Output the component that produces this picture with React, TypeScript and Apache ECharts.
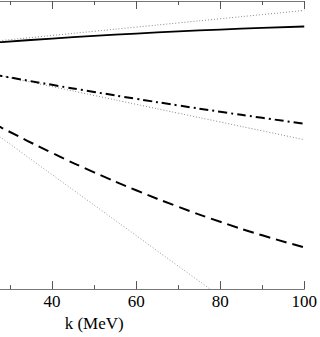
import React, { useEffect, useRef } from "react";
import * as echarts from "echarts";

const kValues = [26, 28, 40, 50, 60, 70, 80, 90, 100];
const solidSeries = [6.258, 6.273, 6.362, 6.428, 6.488, 6.543, 6.59, 6.632, 6.667];
const upperDotted = [6.292, 6.313, 6.44, 6.546, 6.652, 6.758, 6.864, 6.97, 7.076];
const dashDotSeries = [5.45, 5.411, 5.186, 5.006, 4.832, 4.664, 4.503, 4.348, 4.2];
const middleDotted = [5.456, 5.411, 5.142, 4.917, 4.692, 4.467, 4.243, 4.018, 3.793];
const dashedSeries = [4.208, 4.096, 3.457, 2.965, 2.51, 2.092, 1.71, 1.366, 1.059];
const steepDottedK = [20, 28, 40, 50, 60, 70, 77.6];
const steepDotted = [4.451, 3.835, 2.906, 2.133, 1.36, 0.586, 0];

const xTicks = { min: 0, max: 100, interval: 20 };
const visibleXLabels = [40, 60, 80, 100];
const yTicks = { min: 0, max: 7.315, interval: 1 };

const pair = (xs: number[], ys: number[]) => xs.map((x, i) => [x, ys[i]]);

const OFFSET = 119;

export default function App() {
  const ref = useRef<HTMLDivElement>(null);
  useEffect(() => {
    document.body.style.margin = "0";
    const chart = echarts.init(ref.current!, null, { renderer: "svg" });
    const axisColor = "#777";
    const font = "'Liberation Serif', 'Times New Roman', serif";
    const baseX = {
      type: "value",
      min: xTicks.min,
      max: xTicks.max,
      interval: xTicks.interval,
      axisLine: { show: true, lineStyle: { color: axisColor, width: 1 } },
      axisTick: { show: true, inside: true, length: 8, lineStyle: { color: "#555" } },
      minorTick: { show: true, splitNumber: 2, length: 4, lineStyle: { color: "#555" } },
      splitLine: { show: false },
      minorSplitLine: { show: false },
    };
    const dotted = (color: string) => ({
      color,
      width: 1,
      type: [1, 2],
    });
    chart.setOption({
      animation: false,
      backgroundColor: "#fff",
      grid: { left: 0, right: 14, top: 1, bottom: 39, containLabel: false },
      xAxis: [
        {
          ...baseX,
          position: "bottom",
          axisLabel: {
            show: true,
            margin: 4,
            fontFamily: font,
            fontSize: 17,
            color: "#000",
            formatter: (v: number) => (visibleXLabels.includes(v) ? String(v) : ""),
          },
          name: "k (MeV)",
          nameLocation: "middle",
          nameGap: 20,
          nameTextStyle: { fontFamily: font, fontSize: 17, color: "#000" },
        },
        {
          ...baseX,
          position: "top",
          axisLabel: { show: false },
        },
      ],
      yAxis: [
        {
          type: "value",
          position: "right",
          min: yTicks.min,
          max: yTicks.max,
          interval: yTicks.interval,
          axisLine: { show: true, lineStyle: { color: axisColor, width: 1 } },
          axisTick: { show: true, inside: true, length: 8, lineStyle: { color: "#555" } },
          minorTick: { show: true, splitNumber: 2, length: 4, lineStyle: { color: "#555" } },
          axisLabel: { show: false },
          splitLine: { show: false },
          minorSplitLine: { show: false },
        },
      ],
      series: [
        {
          type: "line",
          data: pair(kValues, upperDotted),
          showSymbol: false,
          smooth: true,
          lineStyle: dotted("#888"),
        },
        {
          type: "line",
          data: pair(kValues, solidSeries),
          showSymbol: false,
          smooth: true,
          lineStyle: { color: "#000", width: 1.8 },
        },
        {
          type: "line",
          data: pair(kValues, middleDotted),
          showSymbol: false,
          smooth: true,
          lineStyle: dotted("#888"),
        },
        {
          type: "line",
          data: pair(kValues, dashDotSeries),
          showSymbol: false,
          smooth: true,
          lineStyle: { color: "#000", width: 2, type: [9, 4, 2, 4] },
        },
        {
          type: "line",
          data: pair(steepDottedK, steepDotted),
          showSymbol: false,
          smooth: false,
          lineStyle: dotted("#999"),
        },
        {
          type: "line",
          data: pair(kValues, dashedSeries),
          showSymbol: false,
          smooth: true,
          lineStyle: { color: "#000", width: 2, type: [11, 6] },
        },
      ],
    });
    return () => chart.dispose();
  }, []);
  return (
    <div style={{ width: 320, height: 337, overflow: "hidden", position: "relative" }}>
      <div
        ref={ref}
        style={{ position: "absolute", left: -OFFSET, top: 0, width: 320 + OFFSET, height: 337 }}
      />
    </div>
  );
}
